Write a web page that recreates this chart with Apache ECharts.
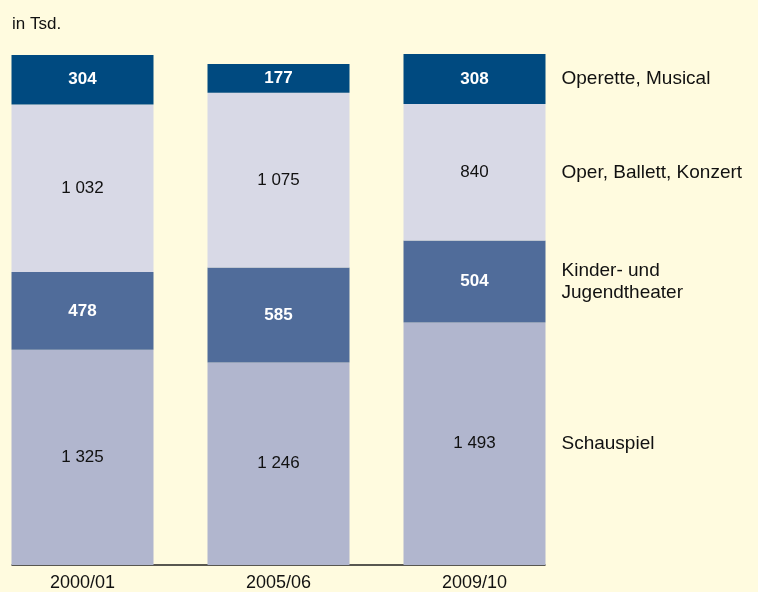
<!DOCTYPE html>
<html>
<head>
<meta charset="utf-8">
<script src="https://cdn.jsdelivr.net/npm/echarts@6/dist/echarts.min.js"></script>
<style>
html, body { margin: 0; padding: 0; background: #fffbdf; }
#chart { width: 758px; height: 592px; }
</style>
</head>
<body>
<div id="chart"></div>
<script>
var years = ['2000/01', '2005/06', '2009/10'];
var seriesNames = ['Schauspiel', 'Kinder- und\nJugendtheater', 'Oper, Ballett, Konzert', 'Operette, Musical'];
var schauspiel = [1325, 1246, 1493];
var kinder = [478, 585, 504];
var oper = [1032, 1075, 840];
var operette = [304, 177, 308];
var values = [schauspiel, kinder, oper, operette];
var colors = ['#b1b6ce', '#506c9a', '#d8d9e6', '#004a80'];
var labelColors = ['#111', '#fff', '#111', '#fff'];
var labelWeights = ['normal', 'bold', 'normal', 'bold'];

var font = 'Liberation Sans, Arial, sans-serif';

function fmt(v) {
    return String(v).replace(/\B(?=(\d{3})+(?!\d))/g, ' ');
}

var chart = echarts.init(document.getElementById('chart'));

var series = [];
values.forEach(function(d, i){
    series.push({
        name: seriesNames[i],
        type: 'bar',
        stack: 'a',
        barWidth: 142,
        data: d,
        itemStyle: { color: colors[i] },
        label: {
            show: true,
            position: 'inside',
            color: labelColors[i],
            fontWeight: labelWeights[i],
            fontFamily: font,
            fontSize: 17,
            formatter: function(p){ return fmt(p.value); }
        }
    });
});
// transparent overlay to place the series names to the right of the last bar
values.forEach(function(d, i){
    series.push({
        type: 'bar',
        stack: 'b',
        barWidth: 142,
        barGap: '-100%',
        silent: true,
        data: d,
        itemStyle: { color: 'rgba(0,0,0,0)' },
        label: {
            show: true,
            position: 'right',
            distance: 16,
            color: '#111',
            fontFamily: font,
            fontSize: 19,
            lineHeight: 22,
            align: 'left',
            formatter: function(p){ return p.dataIndex === 2 ? seriesNames[i] : ''; }
        }
    });
});

var option = {
    backgroundColor: '#fffbdf',
    animation: false,
    title: {
        text: 'in Tsd.',
        left: 7,
        top: 11,
        textStyle: { fontFamily: font, fontSize: 17, fontWeight: 'normal', color: '#111' }
    },
    grid: [
        { left: -15.5, width: 588, top: 12.6, bottom: 27, outerBoundsMode: 'none', containLabel: false },
        { left: 12, right: 213, top: 12.6, bottom: 27, outerBoundsMode: 'none', containLabel: false }
    ],
    xAxis: [{
        type: 'category',
        data: years,
        gridIndex: 0,
        axisLine: { show: false },
        axisTick: { show: false },
        axisLabel: { margin: 9, fontFamily: font, fontSize: 18, color: '#111' }
    }, {
        type: 'category',
        data: years,
        gridIndex: 1,
        axisLine: { lineStyle: { color: '#222', width: 1.5 } },
        axisTick: { show: false },
        axisLabel: { show: false }
    }],
    yAxis: [
        { type: 'value', gridIndex: 0, min: 0, max: 3400, show: false },
        { type: 'value', gridIndex: 1, min: 0, max: 3400, show: false }
    ],
    series: series
};

chart.setOption(option);

window.onresize = function(){
    chart.resize();
}
</script>
</body>
</html>
